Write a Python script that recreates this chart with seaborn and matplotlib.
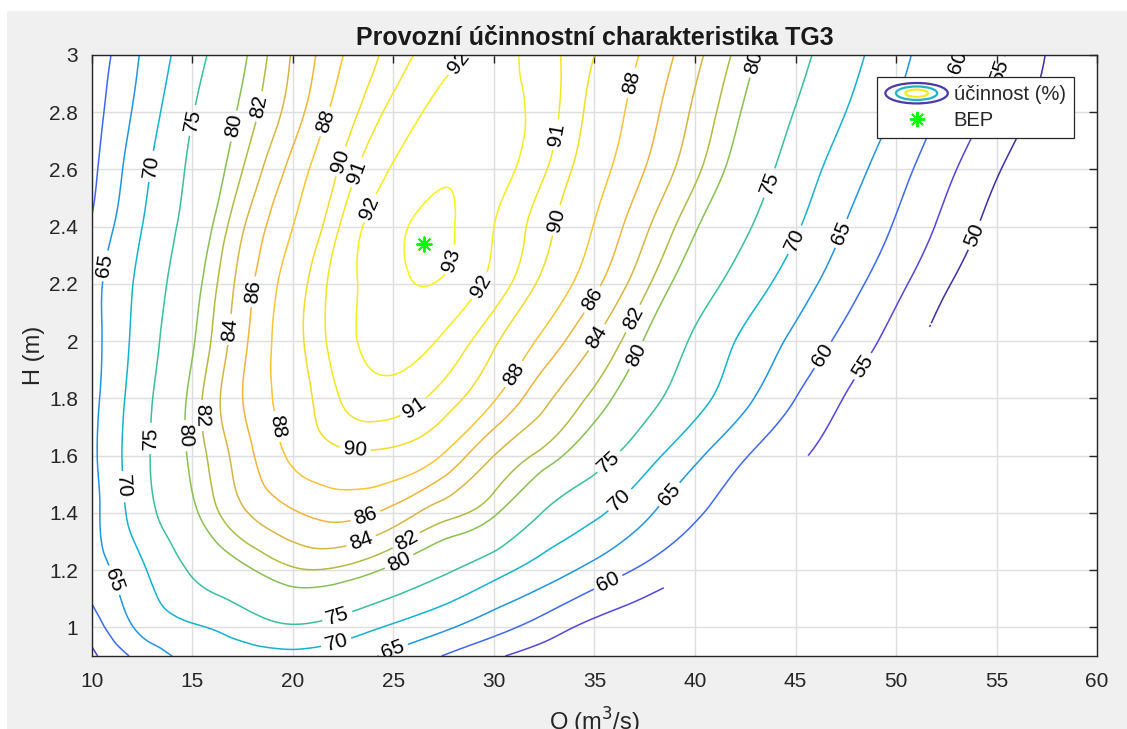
import numpy as np
import matplotlib
matplotlib.use("Agg")
import matplotlib.pyplot as plt
import matplotlib.tri as mtri
from matplotlib.colors import LinearSegmentedColormap, Normalize
from matplotlib.legend_handler import HandlerBase
from matplotlib.lines import Line2D
from matplotlib.patches import Ellipse, Patch, Rectangle
import seaborn as sns

# ─── Data ────────────────────────────────────────────────────────────────────

Q_GRID = [10.0, 12.5, 15.0, 17.5, 20.0, 22.5, 25.0, 27.5, 30.0, 32.5, 35.0,
          37.5, 40.0, 42.5, 45.0, 47.5, 50.0, 52.5, 55.0, 57.5, 60.0]
H_GRID = [0.9, 1.0, 1.2, 1.4, 1.6, 1.8, 2.0, 2.2, 2.4, 2.6, 2.8, 3.0]

# efficiency (%) at each (H row, Q column)
ETA_H090 = [54.0, 61.8, 66.3, 67.6, 68.4, 67.0, 63.9, 59.8, 55.8, 52.6, 50.3, 48.0, 45.0, 42.0, 39.0, 36.0, 33.0, 30.0, 27.0, 24.0, 21.0]
ETA_H100 = [57.4, 66.1, 69.4, 72.2, 74.5, 72.6, 69.2, 65.8, 61.8, 57.6, 53.5, 51.0, 47.5, 44.0, 40.5, 37.0, 33.5, 30.0, 26.5, 23.0, 19.5]
ETA_H120 = [62.5, 69.4, 75.6, 79.3, 81.7, 81.5, 79.2, 75.8, 71.8, 67.6, 63.3, 59.0, 55.2, 51.5, 48.0, 44.0, 40.0, 36.0, 32.0, 28.0, 24.0]
ETA_H140 = [63.3, 72.8, 79.4, 83.7, 85.8, 86.6, 85.3, 82.8, 80.4, 74.7, 70.8, 66.0, 60.7, 57.0, 52.5, 48.0, 44.0, 40.0, 36.0, 32.0, 28.0]
ETA_H160 = [63.9, 73.7, 80.6, 85.1, 88.4, 89.7, 89.6, 87.8, 84.0, 81.3, 77.1, 71.9, 66.1, 60.3, 56.0, 51.5, 46.5, 42.0, 37.5, 33.0, 28.5]
ETA_H180 = [63.4, 73.2, 80.8, 86.0, 89.1, 91.1, 91.5, 90.6, 88.2, 84.5, 81.4, 76.8, 71.7, 66.1, 60.0, 54.7, 49.5, 45.0, 40.5, 36.0, 31.5]
ETA_H200 = [63.1, 72.2, 79.7, 85.5, 89.4, 91.6, 92.5, 91.8, 90.2, 87.4, 84.0, 79.8, 74.2, 69.0, 63.8, 58.5, 53.0, 47.5, 42.0, 36.5, 31.0]
ETA_H220 = [63.2, 71.4, 78.7, 84.9, 89.1, 91.6, 92.75, 92.9, 91.6, 89.6, 86.5, 82.5, 77.6, 72.6, 67.4, 62.0, 56.4, 50.5, 45.0, 39.5, 34.0]
ETA_H240 = [60.6, 70.0, 77.2, 83.8, 88.0, 91.2, 92.75, 93.15, 92.0, 90.4, 87.9, 84.4, 80.3, 75.6, 70.6, 64.8, 59.5, 53.6, 48.0, 42.5, 37.0]
ETA_H260 = [58.8, 68.6, 76.0, 82.0, 86.7, 90.3, 92.1, 92.9, 92.5, 91.1, 88.9, 86.0, 82.5, 78.0, 72.8, 67.4, 61.9, 56.2, 50.5, 45.0, 39.5]
ETA_H280 = [57.8, 66.9, 74.8, 80.6, 85.0, 89.1, 91.3, 92.4, 92.5, 91.5, 89.5, 86.9, 83.6, 79.6, 74.8, 70.0, 64.6, 59.1, 53.6, 48.0, 42.5]
ETA_H300 = [56.5, 65.5, 73.0, 79.5, 84.2, 88.0, 90.5, 91.6, 92.3, 91.4, 90.0, 87.7, 84.6, 80.9, 76.5, 71.9, 66.6, 61.5, 56.0, 49.8, 43.5]

LEVELS = [50, 55, 60, 65, 70, 75, 80, 82, 84, 86, 88, 90, 91, 92, 93]

BEP_Q = [26.5]
BEP_H = [2.34]

# lower-right edge of the measured region (no data below this polyline)
EDGE_Q = [34.8, 38.2, 45.1, 51.9, 64.3]
EDGE_H = [0.90, 1.12, 1.56, 2.07, 3.00]

# where the inline contour labels sit (layout only)
LABEL_SPOTS = {
    50: [(53.9, 2.37)],
    55: [(55.3, 2.94), (48.4, 1.91)],
    60: [(53.3, 2.97), (46.4, 1.95), (35.8, 1.14)],
    65: [(47.5, 2.37), (10.9, 2.26), (38.8, 1.46), (10.9, 1.16), (25.0, 0.92)],
    70: [(13.0, 2.61), (45.1, 2.35), (11.2, 1.49), (36.2, 1.45), (22.1, 0.96)],
    75: [(15.1, 2.77), (43.8, 2.55), (13.0, 1.66), (35.7, 1.58), (22.2, 1.04)],
    80: [(17.2, 2.75), (43.15, 2.97), (37.1, 1.95), (14.6, 1.67), (25.35, 1.22)],
    82: [(18.3, 2.82), (36.9, 2.08), (15.5, 1.74), (25.75, 1.29)],
    84: [(17.0, 2.04), (35.2, 2.01), (23.4, 1.30)],
    86: [(18.3, 2.17), (34.8, 2.15), (23.6, 1.39)],
    88: [(21.5, 2.77), (37.0, 2.90), (31.1, 1.88), (19.0, 1.70)],
    90: [(22.3, 2.63), (33.2, 2.42), (23.1, 1.63)],
    91: [(23.2, 2.59), (33.2, 2.72), (25.9, 1.78)],
    92: [(28.1, 2.98), (24.0, 2.46), (29.4, 2.19)],
    93: [(27.1, 2.30)],
}

# parula-like colour ramp, anchored at the level colours seen in the chart
CMAP_STOPS = [0.0, 0.116, 0.233, 0.349, 0.465, 0.581, 0.698, 0.744, 0.791,
              0.837, 0.884, 0.930, 1.0]
CMAP_COLORS = ["#3d2fa8", "#5346dc", "#3f68ee", "#2194e0", "#12b3d0", "#3abf9e",
               "#88c052", "#afbb42", "#d5b642", "#efb43a", "#f8c332", "#f2dc26",
               "#f5f514"]
ICON_COLORS = ["#4a3aa8", "#22b3c4", "#f2ee1e"]


class ContourIcon(HandlerBase):
    """Three nested ellipses, like MATLAB's contour legend entry."""

    def create_artists(self, legend, orig_handle, xdescent, ydescent,
                       width, height, fontsize, trans):
        cx, cy = width / 2 - xdescent, height / 2 - ydescent
        arts = []
        for frac, col in zip([1.0, 0.66, 0.36], ICON_COLORS):
            arts.append(Ellipse((cx, cy), width * frac, height * 1.45 * frac,
                                fill=False, edgecolor=col, lw=1.6, transform=trans))
        return arts


sns.set_theme(style="white")
plt.rcParams["font.family"] = ["Liberation Sans", "DejaVu Sans"]

fig, ax = plt.subplots(figsize=(11.27, 7.29), dpi=100)
fig.patch.set_facecolor("#f0f0f0")
fig.subplots_adjust(left=0.0816, right=0.9734, bottom=0.1001, top=0.9246)
ax.set_facecolor("white")
# thin white margin of the original screenshot
fig.add_artist(Rectangle((0, 1 - 10 / 729), 1, 10 / 729, transform=fig.transFigure,
                         color="white", zorder=-1))
fig.add_artist(Rectangle((0, 0), 6 / 1127, 1, transform=fig.transFigure,
                         color="white", zorder=-1))

# ─── Smooth field on a refined triangulation ────────────────────────────────
qq, hh = np.meshgrid(Q_GRID, H_GRID)
eta = np.array([ETA_H090, ETA_H100, ETA_H120, ETA_H140, ETA_H160, ETA_H180,
                ETA_H200, ETA_H220, ETA_H240, ETA_H260, ETA_H280, ETA_H300])
nq, nh = len(Q_GRID), len(H_GRID)
u_scale, v_scale = 2.5, 0.2 / 1.14  # cells roughly square on screen
tris = []
for j in range(nh - 1):
    for i in range(nq - 1):
        a = j * nq + i
        tris += [[a, a + 1, a + nq + 1], [a, a + nq + 1, a + nq]]
coarse = mtri.Triangulation(qq.ravel() / u_scale, hh.ravel() / v_scale, np.array(tris))
tri_f, eta_f = mtri.UniformTriRefiner(coarse).refine_field(eta.ravel(), subdiv=4)
fq, fh = tri_f.x * u_scale, tri_f.y * v_scale
fine = mtri.Triangulation(fq, fh, tri_f.triangles)
cq = fq[fine.triangles].mean(axis=1)
ch = fh[fine.triangles].mean(axis=1)
fine.set_mask(ch < np.interp(cq, EDGE_Q, EDGE_H))

parula = LinearSegmentedColormap.from_list("parula_like", list(zip(CMAP_STOPS, CMAP_COLORS)))
norm = Normalize(vmin=50, vmax=93)
for lvl in LEVELS:
    cs = ax.tricontour(fine, eta_f, levels=[lvl], colors=[parula(norm(lvl))],
                       linewidths=1.1)
    ax.clabel(cs, manual=LABEL_SPOTS[lvl], inline=True, inline_spacing=4,
              fmt="%d", fontsize=15, colors="black")

sns.scatterplot(x=BEP_Q, y=BEP_H, marker=(8, 2, 0), s=110, color="#00ff00",
                linewidth=1.4, ax=ax, legend=False, zorder=5)

# ─── Axes styling (MATLAB look) ─────────────────────────────────────────────
ax.set_xlim(10, 60)
ax.set_ylim(0.9, 3)
ax.set_xticks(np.arange(10, 61, 5))
yt = np.round(np.arange(1.0, 3.01, 0.2), 1)
ax.set_yticks(yt)
ax.set_yticklabels([f"{v:g}" for v in yt])
ax.grid(True, color="#dedede", linewidth=1.0)
ax.set_axisbelow(True)
ax.tick_params(direction="in", top=True, right=True, length=6, width=1,
               color="#262626", labelcolor="#262626", labelsize=15)
ax.tick_params(axis="x", pad=11.5)
ax.tick_params(axis="y", pad=10)
for sp in ax.spines.values():
    sp.set_color("#262626")
    sp.set_linewidth(1.0)

ax.set_title("Provozní účinnostní charakteristika TG3", fontsize=18,
             fontweight="bold", color="#1a1a1a", pad=7)
ax.set_xlabel("Q (m$^3$/s)", fontsize=17, color="#262626")
ax.set_ylabel("H (m)", fontsize=17, color="#262626")
ax.xaxis.set_label_coords(0.5, -0.083)
ax.yaxis.set_label_coords(-0.047, 0.5)

handles = [Patch(label="účinnost (%)"),
           Line2D([], [], marker=(8, 2, 0), color="#00ff00", linestyle="none",
                  markersize=11, markeredgewidth=1.4, label="BEP")]
leg = ax.legend(handles=handles, handler_map={Patch: ContourIcon()},
                loc="upper right", bbox_to_anchor=(0.977, 0.963), borderaxespad=0,
                fontsize=14.5, handlelength=3.1, handletextpad=0.3, borderpad=0.4,
                labelspacing=0.35, fancybox=False, framealpha=1, edgecolor="#262626")
leg.get_frame().set_linewidth(0.9)

fig.savefig("out.png", dpi=100, facecolor=fig.get_facecolor())
